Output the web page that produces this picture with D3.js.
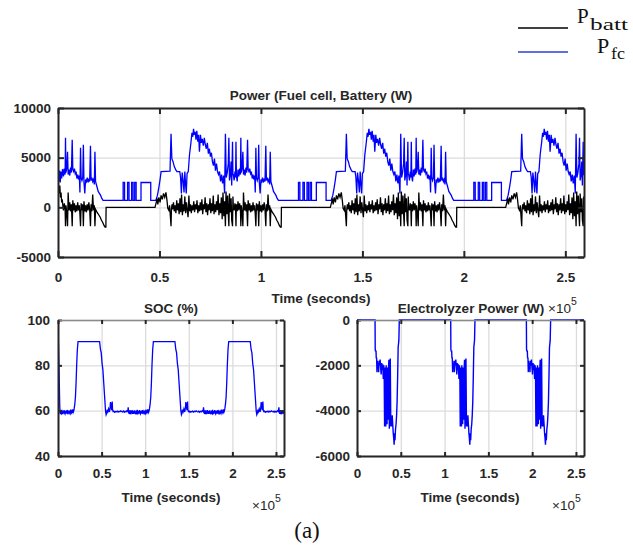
<!DOCTYPE html>
<html>
<head>
<meta charset="utf-8">
<script src="https://cdn.jsdelivr.net/npm/d3@7"></script>
<style>
  body { margin: 0; background: #fff; }
</style>
</head>
<body>
<svg id="chart" width="633" height="545" font-family="Liberation Sans, Arial, sans-serif"></svg>
<script>
// time is in units of 1e5 seconds (axis shows x10^5)
const timeEnd = 2.592;
const dayLength = 0.864;
const xTicks = [0, 0.5, 1, 1.5, 2, 2.5];
const powerTicks = [-5000, 0, 5000, 10000];
const socTicks = [40, 60, 80, 100];
const elecTicks = [-6000, -4000, -2000, 0];

// fuel cell power over one day (phase, W)
const fcDay = [
  [0.000,3300],[0.004,2700],[0.008,3600],[0.011,3000],[0.013,6600],[0.015,3200],[0.019,2600],[0.023,3800],
  [0.027,3100],[0.031,3900],[0.035,3300],[0.037,7000],[0.039,3500],[0.043,3900],[0.047,5600],[0.050,3300],
  [0.054,3800],[0.058,3200],[0.062,4000],[0.066,3500],[0.070,6800],[0.073,3800],[0.077,3600],[0.081,3900],
  [0.085,3400],[0.089,3600],[0.093,2900],[0.097,3300],[0.101,2800],[0.105,3200],[0.108,1500],[0.111,6000],
  [0.114,3000],[0.118,2700],[0.122,3000],[0.125,6300],[0.128,2500],[0.132,1400],[0.136,2800],[0.140,2600],
  [0.144,3000],[0.148,2500],[0.152,2900],[0.156,2600],[0.160,6200],[0.163,2700],[0.167,3000],[0.171,2600],
  [0.175,2800],[0.179,2300],[0.182,5600],[0.185,2600],[0.189,2300],[0.193,2000],[0.198,1600],[0.204,1400],
  [0.210,1200],[0.216,900],[0.222,700],
  [0.321,700],[0.321,2500],[0.328,2500],[0.328,700],[0.343,700],[0.343,2500],[0.350,2500],[0.350,700],
  [0.363,700],[0.363,2500],[0.370,2500],[0.370,700],[0.378,700],[0.378,2500],[0.385,2500],[0.385,700],
  [0.409,700],[0.409,2500],[0.457,2500],[0.457,700],[0.482,700],
  [0.490,1200],[0.497,2000],[0.503,2800],[0.508,3600],[0.552,3650],[0.557,7400],[0.561,4900],[0.567,4600],
  [0.573,4100],[0.580,3800],[0.586,3600],[0.600,3600],[0.604,3000],[0.608,1400],[0.612,3500],[0.617,2600],
  [0.621,1500],[0.625,3600],[0.628,2500],[0.632,1400],[0.636,3400],[0.642,3600],[0.648,5300],[0.655,6500],
  [0.660,7500],[0.664,7100],[0.668,7900],[0.672,7300],[0.676,7600],[0.680,6800],[0.684,7700],[0.689,6600],
  [0.693,7300],[0.697,5600],[0.702,7300],[0.706,6500],[0.711,6900],[0.716,6200],[0.721,7000],[0.726,6300],
  [0.731,5900],[0.736,6500],[0.741,5400],[0.746,5900],[0.751,5100],[0.756,5500],[0.761,4600],[0.766,4200],
  [0.771,4900],[0.776,3700],[0.781,4400],[0.786,3600],[0.791,3300],[0.796,3600],[0.801,2600],[0.806,3300],
  [0.811,2400],[0.816,3200],[0.821,1400],[0.825,7400],[0.829,3000],[0.834,3500],[0.839,4400],[0.842,7000],
  [0.845,2700],[0.849,3200],[0.853,4600],[0.856,2200],[0.860,6600],[0.862,3300],[0.864,3300]
];
const fcStart = [[0,0],[0.002,3500],[0.005,2600],[0.008,3700],[0.011,2500],[0.014,3600],[0.018,2900],[0.022,3800]];

// battery power over one day (phase, W)
const battDay = [
  [0.000,100],[0.004,-300],[0.008,400],[0.011,-200],[0.013,-1900],[0.015,300],[0.019,-400],[0.023,600],
  [0.027,-300],[0.031,400],[0.035,-200],[0.037,-1900],[0.039,200],[0.043,-500],[0.047,-1900],[0.050,1500],
  [0.054,-300],[0.058,500],[0.062,-400],[0.066,300],[0.070,-1900],[0.073,700],[0.077,-300],[0.081,400],
  [0.085,-500],[0.089,200],[0.093,-400],[0.097,500],[0.101,-300],[0.105,200],[0.108,-700],[0.111,-1900],
  [0.114,400],[0.118,-300],[0.122,300],[0.125,-1900],[0.128,600],[0.132,-400],[0.136,200],[0.140,-500],
  [0.144,300],[0.148,-300],[0.152,500],[0.156,-200],[0.160,-1900],[0.163,300],[0.167,-400],[0.171,1300],
  [0.175,-300],[0.179,200],[0.182,-1900],[0.185,-200],[0.190,-400],[0.196,-600],[0.202,-800],[0.208,-1000],
  [0.214,-1300],[0.220,-1500],[0.226,-1800],[0.232,-2000],[0.236,-2000],[0.237,0],[0.478,0],
  [0.483,400],[0.488,900],[0.492,300],[0.497,1000],[0.503,500],[0.508,1200],[0.514,800],[0.520,1400],
  [0.526,1000],[0.532,1500],[0.537,700],[0.541,-100],[0.546,-300],[0.550,200],[0.557,-1900],[0.559,-200],
  [0.562,300],[0.565,-200],[0.569,500],[0.573,-400],[0.577,200],[0.581,-600],[0.585,700],[0.589,-300],
  [0.593,400],[0.597,-700],[0.601,900],[0.605,-500],[0.609,1300],[0.613,-800],[0.617,300],[0.621,-400],
  [0.625,1100],[0.629,-600],[0.633,500],[0.637,-300],[0.641,-1000],[0.645,1200],[0.649,-400],[0.653,300],
  [0.657,-600],[0.661,200],[0.665,-300],[0.669,600],[0.673,-500],[0.677,300],[0.681,-200],[0.685,700],
  [0.689,-600],[0.693,200],[0.697,-400],[0.701,500],[0.705,-300],[0.709,800],[0.713,-700],[0.717,300],
  [0.721,-200],[0.725,1000],[0.729,-500],[0.733,400],[0.737,-800],[0.741,300],[0.745,-300],[0.749,900],
  [0.753,-600],[0.757,400],[0.761,-400],[0.765,1200],[0.769,-700],[0.773,300],[0.777,-500],[0.781,600],
  [0.785,-300],[0.789,1300],[0.793,-800],[0.797,400],[0.801,-600],[0.805,1000],[0.809,-1200],[0.813,1500],
  [0.817,-900],[0.821,600],[0.825,-1900],[0.828,1600],[0.832,-700],[0.836,1200],[0.839,-600],[0.842,-1900],
  [0.845,1400],[0.849,-500],[0.853,900],[0.856,-1300],[0.860,-1900],[0.862,1100],[0.864,100]
];
const battStart = [[0,2700],[0.003,1900],[0.006,1400],[0.009,2200],[0.012,1000],[0.015,1500],[0.018,500],[0.021,800],[0.024,100]];

// state of charge over one day (phase, %)
const socDay = [
  [0.000,59.3],[0.006,58.6],[0.010,60.1],[0.015,58.9],[0.020,59.6],[0.025,58.4],[0.030,60.0],[0.035,59.0],
  [0.040,58.7],[0.045,60.4],[0.050,59.1],[0.055,58.5],[0.060,59.8],[0.065,58.8],[0.070,60.3],[0.075,59.0],
  [0.080,58.6],[0.085,59.9],[0.090,59.2],[0.095,58.7],[0.100,60.2],[0.105,59.0],[0.110,58.8],[0.115,59.7],
  [0.120,59.3],[0.125,58.9],[0.130,60.0],[0.135,59.2],[0.140,58.8],[0.145,60.5],[0.150,59.4],[0.155,59.0],
  [0.160,59.7],[0.165,59.1],[0.170,60.6],[0.175,59.3],[0.180,59.8],[0.186,61],[0.193,63],[0.200,66],
  [0.207,72],[0.214,80],[0.222,87],[0.230,90.5],[0.477,90.5],[0.487,87],[0.496,85.5],[0.505,81],
  [0.515,78],[0.525,72],[0.535,66],[0.545,60],[0.552,58.2],[0.558,58.8],[0.565,60.5],[0.572,59.6],
  [0.580,60.8],[0.590,59.4],[0.598,61.5],[0.602,63.8],[0.606,61],[0.610,63.3],[0.614,60.2],[0.618,62.5],
  [0.622,64],[0.626,60.3],[0.632,59.6],[0.640,59.8],[0.650,59.3],[0.660,59.6],[0.670,59.5],[0.680,59.8],
  [0.690,59.4],[0.700,59.7],[0.710,59.5],[0.720,59.9],[0.730,59.6],[0.740,59.4],[0.750,59.8],[0.760,59.3],
  [0.770,59.7],[0.780,59.5],[0.790,60.0],[0.800,59.6],[0.805,61.5],[0.810,59.7],[0.815,58.6],[0.820,60.2],
  [0.825,58.5],[0.830,60.1],[0.835,58.4],[0.840,59.9],[0.845,58.8],[0.850,60.3],[0.855,58.6],[0.860,59.8],
  [0.864,59.3]
];
const socStart = [[0,100],[0.006,88],[0.011,80],[0.016,70],[0.020,62],[0.024,59.5]];

// electrolyzer power over one day (phase, W)
const elecDay = [
  [0,0],[0.206,0],[0.208,-1300],[0.213,-1400],[0.217,-1350],[0.220,-1700],[0.224,-1650],[0.228,-2300],
  [0.232,-1800],[0.237,-2100],[0.242,-1900],[0.247,-2300],[0.252,-1800],[0.258,-2000],[0.264,-1750],
  [0.270,-2100],[0.276,-2400],[0.282,-1900],[0.288,-2200],[0.294,-1950],[0.300,-2600],[0.306,-2000],
  [0.311,-2700],[0.315,-4700],[0.319,-2100],[0.324,-2500],[0.329,-4700],[0.333,-2000],[0.338,-2800],
  [0.343,-4600],[0.348,-2100],[0.353,-4400],[0.358,-2300],[0.364,-1750],[0.369,-4800],[0.374,-2000],
  [0.380,-1700],[0.386,-4700],[0.391,-4300],[0.397,-4700],[0.402,-4200],[0.408,-4600],[0.414,-5000],
  [0.419,-5200],[0.424,-5500],[0.429,-5000],[0.434,-5300],[0.440,-4800],[0.446,-4600],[0.452,-4200],
  [0.458,-3600],[0.464,-2500],[0.470,-1200],[0.478,-900],[0.483,0],[0.864,0]
];

// the same daily profile repeats for the three simulated days
function threeDays(day, start){
  const out = [];
  const skipTo = start ? start[start.length - 1][0] : -1;
  for(let k = 0; k < 3; k++){
    day.forEach(d => {
      if(k === 0 && d[0] <= skipTo) return;
      out.push([d[0] + k * dayLength, d[1]]);
    });
  }
  return start ? start.concat(out) : out;
}

const svg = d3.select("#chart");
svg.append("rect").attr("width", 633).attr("height", 545).attr("fill", "#fff");

const panels = {
  power: { left: 58, right: 584, top: 108, bottom: 257, yDomain: [-5000, 10000], yTicks: powerTicks, tick: 6, xPad: 15, yPad: 7 },
  soc:   { left: 58, right: 284, top: 320, bottom: 456, yDomain: [40, 100], yTicks: socTicks, tick: 4, xPad: 12, yPad: 8 },
  elec:  { left: 357, right: 584, top: 320, bottom: 456, yDomain: [-6000, 0], yTicks: elecTicks, tick: 4, xPad: 12, yPad: 7 }
};

function setupPanel(name){
  const p = panels[name];
  p.x = d3.scaleLinear().domain([0, timeEnd]).range([p.left, p.right]);
  p.y = d3.scaleLinear().domain(p.yDomain).range([p.bottom, p.top]);
  const w = p.right - p.left, h = p.bottom - p.top;

  const grid = svg.append("g");
  grid.append("g").attr("transform", `translate(0,${p.bottom})`)
    .call(d3.axisBottom(p.x).tickValues(xTicks).tickSize(-h).tickFormat(""));
  grid.append("g").attr("transform", `translate(${p.left},0)`)
    .call(d3.axisLeft(p.y).tickValues(p.yTicks).tickSize(-w).tickFormat(""));
  grid.selectAll(".domain").remove();
  grid.selectAll("line").attr("stroke", "#dcdcdc").attr("stroke-width", 1.3);

  svg.append("clipPath").attr("id", "clip-" + name)
    .append("rect").attr("x", p.left).attr("y", p.top - 1).attr("width", w).attr("height", h + 2);
  p.plot = svg.append("g").attr("clip-path", `url(#clip-${name})`);
}

function drawFrame(name){
  const p = panels[name];
  const fmt = d => String(d);
  const frame = svg.append("g");

  frame.append("g").attr("transform", `translate(0,${p.bottom})`)
    .call(d3.axisBottom(p.x).tickValues(xTicks).tickSizeInner(-p.tick).tickSizeOuter(0).tickPadding(p.xPad).tickFormat(fmt));
  frame.append("g").attr("transform", `translate(${p.left},0)`)
    .call(d3.axisLeft(p.y).tickValues(p.yTicks).tickSizeInner(-p.tick).tickSizeOuter(0).tickPadding(p.yPad).tickFormat(fmt));
  const top = frame.append("g").attr("transform", `translate(0,${p.top})`)
    .call(d3.axisTop(p.x).tickValues(xTicks).tickSizeInner(-p.tick).tickSizeOuter(0).tickFormat(""));
  frame.append("g").attr("transform", `translate(${p.right},0)`)
    .call(d3.axisRight(p.y).tickValues(p.yTicks).tickSizeInner(-p.tick).tickSizeOuter(0).tickFormat(""));

  frame.selectAll(".domain").attr("stroke", "#262626").attr("stroke-width", 2);
  frame.selectAll(".tick line").attr("stroke", "#262626").attr("stroke-width", 2);
  if(name !== "power") top.select(".domain").attr("stroke", "#8a8a8a").attr("stroke-width", 1.6);

  frame.selectAll("g").attr("font-family", null).attr("font-size", null);
  frame.selectAll("text")
    .attr("font-size", "13.5px")
    .attr("font-weight", "bold")
    .attr("fill", "#262626");
}

function addText(x, y, str, opts){
  const t = svg.append("text").attr("x", x).attr("y", y).text(str)
    .attr("text-anchor", opts.anchor || "middle")
    .attr("font-size", opts.size || "13.5px")
    .attr("font-weight", opts.weight || "bold")
    .attr("fill", opts.fill || "#262626");
  if(opts.family) t.attr("font-family", opts.family);
  return t;
}

function exponent(x, y){
  const t = svg.append("text").attr("x", x).attr("y", y)
    .attr("font-size", "13.5px").attr("fill", "#262626");
  t.append("tspan").text("\u00d710");
  t.append("tspan").attr("dy", -8).attr("font-size", "10.5px").text("5");
}

const lineOf = p => d3.line().x(d => p.x(d[0])).y(d => p.y(d[1]));

// Power panel
setupPanel("power");
panels.power.plot.append("path")
  .datum(threeDays(fcDay, fcStart))
  .attr("d", lineOf(panels.power))
  .attr("fill", "none").attr("stroke", "#0000ff").attr("stroke-width", 1.3);
panels.power.plot.append("path")
  .datum(threeDays(battDay, battStart))
  .attr("d", lineOf(panels.power))
  .attr("fill", "none").attr("stroke", "#000").attr("stroke-width", 1.3);
drawFrame("power");
addText(321, 100, "Power (Fuel cell, Battery (W)", {});
addText(321, 303, "Time (seconds)", {});
exponent(548, 313);

// SOC panel
setupPanel("soc");
panels.soc.plot.append("path")
  .datum(threeDays(socDay, socStart))
  .attr("d", lineOf(panels.soc))
  .attr("fill", "none").attr("stroke", "#0000ff").attr("stroke-width", 1.3);
drawFrame("soc");
addText(171, 313, "SOC (%)", {});
addText(171, 502, "Time (seconds)", {});
exponent(252, 510);

// Electrolyzer panel
setupPanel("elec");
panels.elec.plot.append("path")
  .datum(threeDays(elecDay))
  .attr("d", lineOf(panels.elec))
  .attr("fill", "none").attr("stroke", "#0000ff").attr("stroke-width", 1.4);
drawFrame("elec");
addText(471, 313, "Electrolyzer Power (W)", {});
addText(470, 502, "Time (seconds)", {});
exponent(552, 510);

// caption
const serif = "Liberation Serif, Times New Roman, serif";
addText(307, 538, "(a)", { size: "23px", weight: "normal", fill: "#111", family: serif });

// legend
const legend = svg.append("g").attr("font-family", serif).attr("fill", "#111");
legend.append("line").attr("x1", 518).attr("x2", 568).attr("y1", 28).attr("y2", 28)
  .attr("stroke", "#000").attr("stroke-width", 1.5);
legend.append("line").attr("x1", 518).attr("x2", 568).attr("y1", 52).attr("y2", 52)
  .attr("stroke", "#2a3fd6").attr("stroke-width", 1.5);
legend.append("text").attr("x", 577).attr("y", 23).attr("font-size", "21px").text("P");
legend.append("text").attr("x", 590).attr("y", 30).attr("font-size", "17px")
  .attr("textLength", 38).attr("lengthAdjust", "spacingAndGlyphs").text("batt");
legend.append("text").attr("x", 597).attr("y", 53).attr("font-size", "22px").text("P");
legend.append("text").attr("x", 611).attr("y", 59).attr("font-size", "17px")
  .attr("textLength", 14).attr("lengthAdjust", "spacingAndGlyphs").text("fc");
</script>
</body>
</html>
